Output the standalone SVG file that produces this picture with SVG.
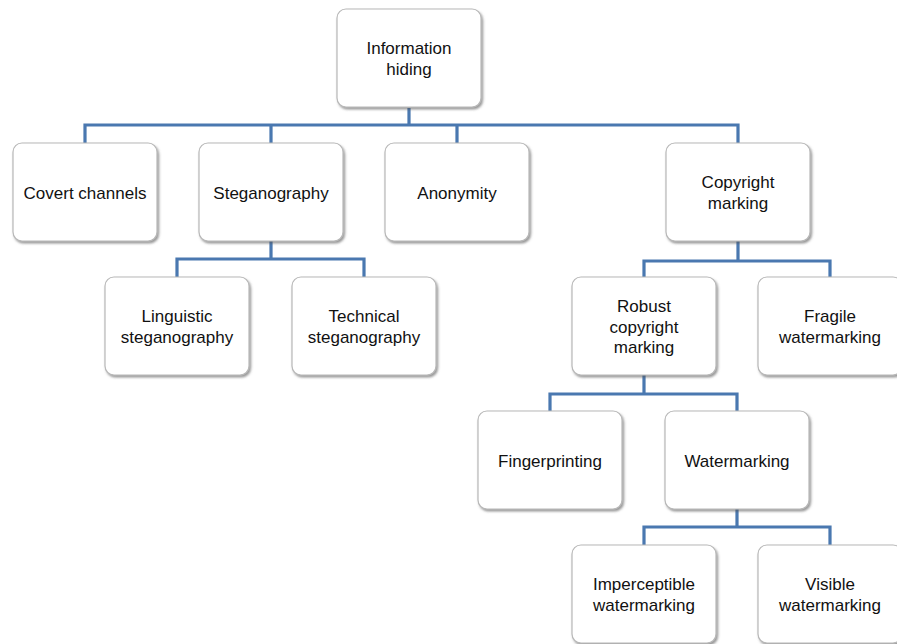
<svg xmlns="http://www.w3.org/2000/svg" width="897" height="644" viewBox="0 0 897 644">
<defs>
<filter id="sh" x="-10%" y="-10%" width="125%" height="125%">
<feDropShadow dx="1.5" dy="2" stdDeviation="1.2" flood-color="#555" flood-opacity="0.6"/>
</filter>
<style>
.box{fill:#fff;stroke:#b8b8b8;stroke-width:1.2;filter:url(#sh)}
.lbl{font-family:"Liberation Sans",Arial,sans-serif;font-size:17px;fill:#111;text-anchor:middle}
.con{fill:none;stroke:#4a78b0;stroke-width:3.2;stroke-linejoin:miter;stroke-linecap:butt}
</style>
</defs>
<rect width="897" height="644" fill="#fff"/>
<g id="connectors">
<path class="con" d="M409 108 V125 M85 143 V125 H738 V143 M271 125 V143 M457 125 V143"/>
<path class="con" d="M271 241 V259 M177 277 V259 H364 V277"/>
<path class="con" d="M738 241 V261 M644 277 V261 H830 V277"/>
<path class="con" d="M644 375 V394 M550 411 V394 H737 V411"/>
<path class="con" d="M737 509 V527 M644 545 V527 H830 V545"/>
</g>
<g id="n-root"><rect class="box" x="337" y="9" width="144" height="98" rx="9"/><text class="lbl" x="409" y="54">Information</text><text class="lbl" x="409" y="74.5">hiding</text></g>
<g id="n-covert"><rect class="box" x="13" y="143" width="144" height="98" rx="9"/><text class="lbl" x="85" y="198.5">Covert channels</text></g>
<g id="n-stego"><rect class="box" x="199" y="143" width="144" height="98" rx="9"/><text class="lbl" x="271" y="198.5">Steganography</text></g>
<g id="n-anon"><rect class="box" x="385" y="143" width="144" height="98" rx="9"/><text class="lbl" x="457" y="198.5">Anonymity</text></g>
<g id="n-copyright"><rect class="box" x="666" y="143" width="144" height="98" rx="9"/><text class="lbl" x="738" y="188">Copyright</text><text class="lbl" x="738" y="208.5">marking</text></g>
<g id="n-ling"><rect class="box" x="105" y="277" width="144" height="98" rx="9"/><text class="lbl" x="177" y="322">Linguistic</text><text class="lbl" x="177" y="342.5">steganography</text></g>
<g id="n-tech"><rect class="box" x="292" y="277" width="144" height="98" rx="9"/><text class="lbl" x="364" y="322">Technical</text><text class="lbl" x="364" y="342.5">steganography</text></g>
<g id="n-robust"><rect class="box" x="572" y="277" width="144" height="98" rx="9"/><text class="lbl" x="644" y="312">Robust</text><text class="lbl" x="644" y="332.5">copyright</text><text class="lbl" x="644" y="353">marking</text></g>
<g id="n-fragile"><rect class="box" x="758" y="277" width="144" height="98" rx="9"/><text class="lbl" x="830" y="322">Fragile</text><text class="lbl" x="830" y="342.5">watermarking</text></g>
<g id="n-finger"><rect class="box" x="478" y="411" width="144" height="98" rx="9"/><text class="lbl" x="550" y="466.5">Fingerprinting</text></g>
<g id="n-water"><rect class="box" x="665" y="411" width="144" height="98" rx="9"/><text class="lbl" x="737" y="466.5">Watermarking</text></g>
<g id="n-imper"><rect class="box" x="572" y="545" width="144" height="98" rx="9"/><text class="lbl" x="644" y="590">Imperceptible</text><text class="lbl" x="644" y="610.5">watermarking</text></g>
<g id="n-visible"><rect class="box" x="758" y="545" width="144" height="98" rx="9"/><text class="lbl" x="830" y="590">Visible</text><text class="lbl" x="830" y="610.5">watermarking</text></g>
</svg>
